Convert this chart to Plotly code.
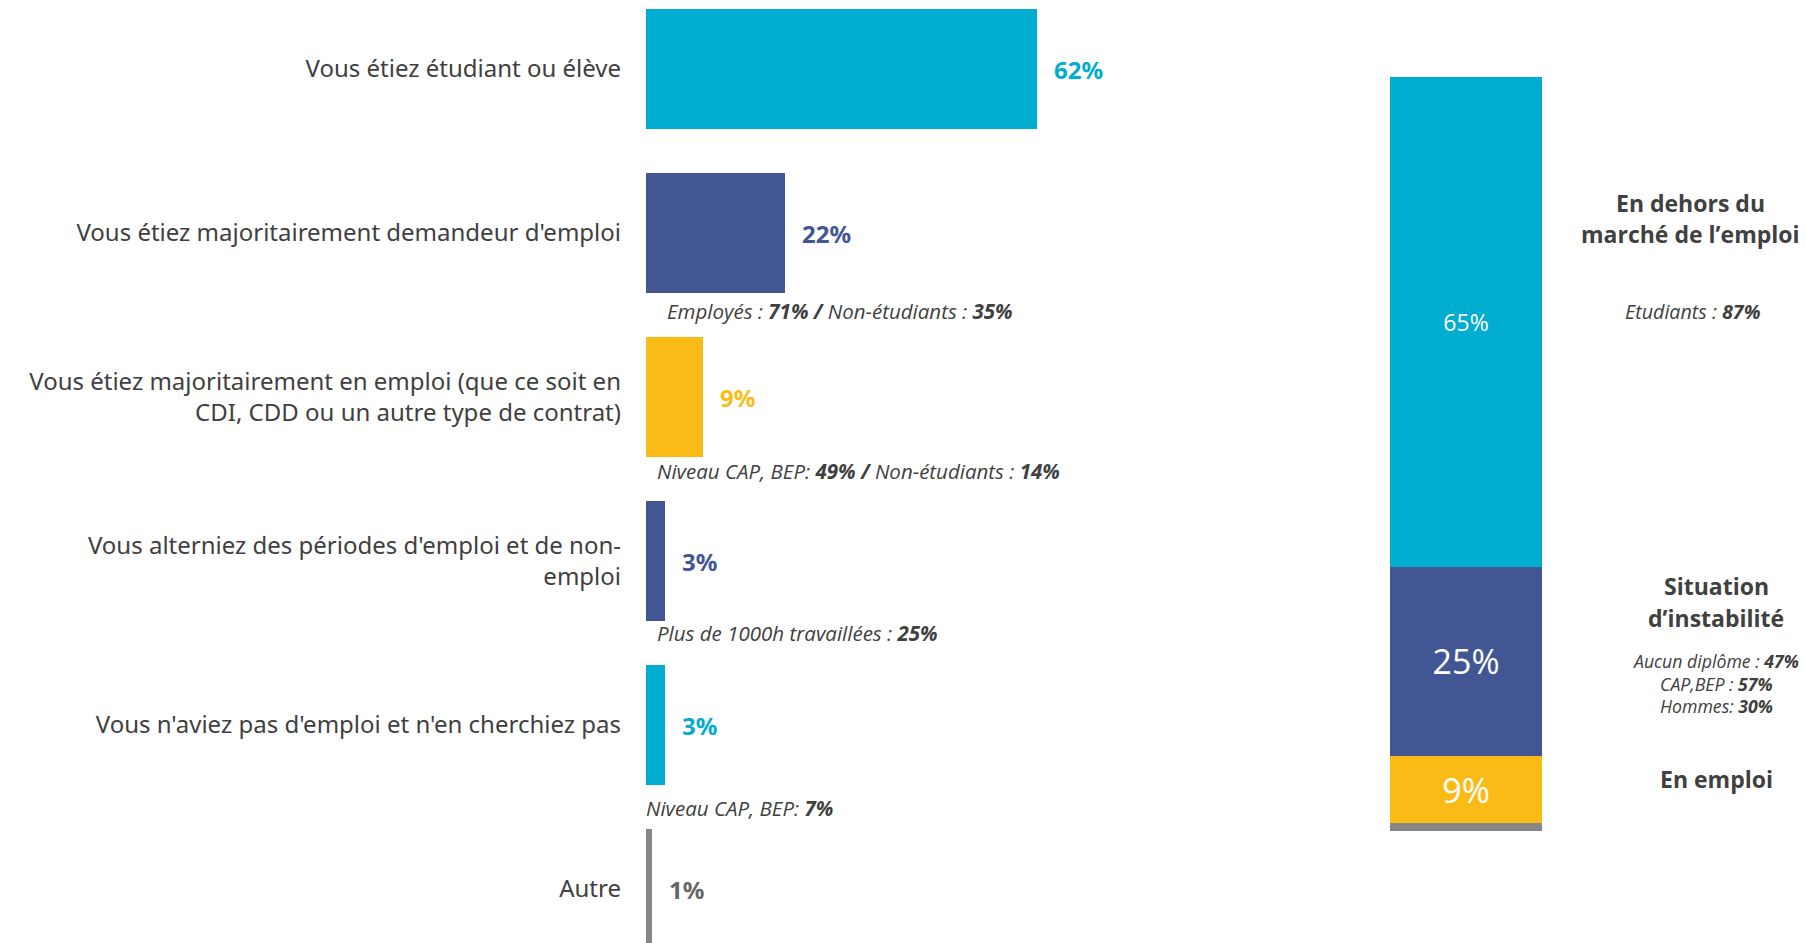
import plotly.graph_objects as go

W, H = 1806, 943

CYAN = "#00ADD0"
NAVY = "#425694"
YELLOW = "#FBBB16"
GRAY = "#878787"
TEXT = "#404040"

# Left panel: situation before the training
categories = [
    "Vous étiez étudiant ou élève",
    "Vous étiez majoritairement demandeur d'emploi",
    "Vous étiez majoritairement en emploi (que ce soit en<br>CDI, CDD ou un autre type de contrat)",
    "Vous alterniez des périodes d'emploi et de non-<br>emploi",
    "Vous n'aviez pas d'emploi et n'en cherchiez pas",
    "Autre",
]
values = [62, 22, 9, 3, 3, 1]
bar_colors = [CYAN, NAVY, YELLOW, NAVY, CYAN, GRAY]
value_colors = [CYAN, NAVY, YELLOW, NAVY, CYAN, "#666666"]

# Sub-group notes shown under some bars
notes = [
    "Employés : <b>71%</b> <b>/</b> Non-étudiants : <b>35%</b>",
    "Niveau CAP, BEP: <b>49%</b> <b>/</b> Non-étudiants : <b>14%</b>",
    "Plus de 1000h travaillées : <b>25%</b>",
    "Niveau CAP, BEP: <b>7%</b>",
]
note_px = [(665, 311), (655, 471), (655, 633), (644, 808)]

# Right panel: grouped situations (stacked from the bottom)
groups = ["Autre", "En emploi", "Situation d'instabilité", "En dehors du marché de l'emploi"]
group_values = [1, 9, 25, 65]
group_colors = [GRAY, YELLOW, NAVY, CYAN]
group_text_sizes = [1, 34, 34, 23]

# Pixel geometry helpers
PX_PER_PCT = 6.3
X0 = 646
BAR_TOP_CENTER = 69
PITCH = 164
BAR_H = 120

fig = go.Figure()

fig.add_trace(go.Bar(
    x=values, y=categories, orientation="h",
    marker=dict(color=bar_colors, line=dict(width=0)),
    width=BAR_H / PITCH,
    xaxis="x", yaxis="y", showlegend=False, hoverinfo="skip",
))

for name, v, c, s in zip(groups, group_values, group_colors, group_text_sizes):
    fig.add_trace(go.Bar(
        x=[0], y=[v], width=1,
        marker=dict(color=c, line=dict(width=0)),
        text=[f"{v}%" if v > 1 else ""], textposition="inside",
        insidetextanchor="middle", textangle=0,
        textfont=dict(color="white", size=s, family="Open Sans"),
        xaxis="x2", yaxis="y2", showlegend=False, hoverinfo="skip", name=name,
    ))

annotations = []

# value labels next to the horizontal bars
for cat, v, c in zip(categories, values, value_colors):
    annotations.append(dict(
        x=v, y=cat, xref="x", yref="y", text=f"<b>{v}%</b>",
        xanchor="left", yanchor="middle", xshift=15, showarrow=False,
        font=dict(family="Noto Sans", size=24, color=c),
    ))

for t, (px, py) in zip(notes, note_px):
    annotations.append(dict(
        x=px / W, y=1 - py / H, xref="paper", yref="paper", text=f"<i>{t}</i>",
        xanchor="left", yanchor="middle", showarrow=False,
        font=dict(family="Open Sans", size=20.5, color=TEXT),
    ))

# right-hand descriptions
right_texts = [
    ("<b>En dehors du</b>", 1690, 203, 23),
    ("<b>marché de l’emploi</b>", 1690, 234, 23),
    ("<i>Etudiants : <b>87%</b></i>", 1693, 311, 19.7),
    ("<b>Situation</b>", 1716, 586, 23),
    ("<b>d’instabilité</b>", 1716, 618, 23),
    ("<i>Aucun diplôme : <b>47%</b></i>", 1716, 661, 17.7),
    ("<i>CAP,BEP : <b>57%</b></i>", 1716, 684, 17.7),
    ("<i>Hommes: <b>30%</b></i>", 1716, 706, 17.7),
    ("<b>En emploi</b>", 1716, 779, 23),
]
for t, px, py, s in right_texts:
    annotations.append(dict(
        x=px / W, y=1 - py / H, xref="paper", yref="paper", text=t,
        xanchor="center", yanchor="middle", showarrow=False,
        font=dict(family="Open Sans", size=s, color=TEXT),
    ))

# category axis range so bar i is centred at BAR_TOP_CENTER + i*PITCH px
top = -BAR_TOP_CENTER / PITCH
bottom = top + H / PITCH

x_right = 1276
fig.update_layout(
    width=W, height=H,
    margin=dict(l=0, r=0, t=0, b=0),
    paper_bgcolor="white", plot_bgcolor="white",
    barmode="stack",
    font=dict(family="Noto Sans", color=TEXT),
    xaxis=dict(domain=[X0 / W, x_right / W], range=[0, (x_right - X0) / PX_PER_PCT],
               visible=False, fixedrange=True),
    yaxis=dict(domain=[0, 1], type="category", range=[bottom, top],
               showgrid=False, zeroline=False, showline=False, ticks="",
               tickfont=dict(family="Noto Sans", size=24, color=TEXT),
               ticklabelstandoff=24, anchor="x"),
    xaxis2=dict(domain=[1390 / W, 1542 / W], range=[-0.5, 0.5], visible=False,
                anchor="y2"),
    yaxis2=dict(domain=[1 - 831 / H, 1 - 77 / H], range=[0, 100], visible=False,
                anchor="x2"),
    annotations=annotations,
)

fig.write_html("out.html")
